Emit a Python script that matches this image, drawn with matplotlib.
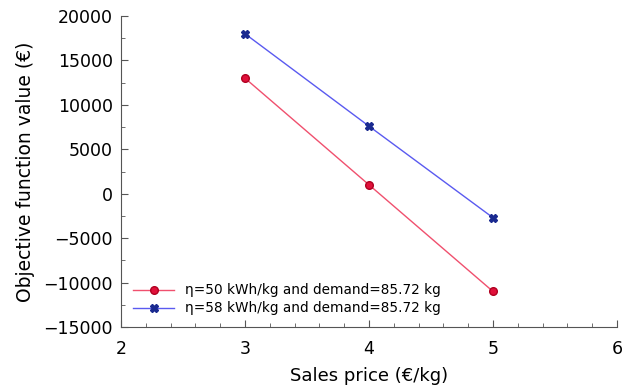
import matplotlib
matplotlib.use("Agg")
import matplotlib.pyplot as plt
from matplotlib.ticker import MultipleLocator

price = [3, 4, 5]
obj_eta50 = [13000, 1000, -11000]
obj_eta58 = [18000, 7600, -2700]
labels = ["\u03b7=50 kWh/kg and demand=85.72 kg",
          "\u03b7=58 kWh/kg and demand=85.72 kg"]

plt.rcParams['font.family'] = ['DejaVu Sans']

fig = plt.figure(figsize=(6.31, 3.9), dpi=100)
ax = fig.add_axes([121 / 631, 63 / 390, 496 / 631, 311 / 390])

ax.plot(price, obj_eta50, color='#f0506e', lw=1, marker='o', ms=5.5,
        mfc='#e0103a', mec='#b00020', label=labels[0])
ax.plot(price, obj_eta58, color='#5a5af0', lw=1, marker='X', ms=6,
        mfc='#1a2a90', mec='#1a2a90', label=labels[1])

ax.set_xlim(2, 6)
ax.set_ylim(-15000, 20000)
ax.xaxis.set_major_locator(MultipleLocator(1))
ax.xaxis.set_minor_locator(MultipleLocator(0.2))
ax.yaxis.set_major_locator(MultipleLocator(5000))
ax.yaxis.set_minor_locator(MultipleLocator(2500))
ax.tick_params(which='both', direction='in', labelsize=12.5, color='#555555')
ax.tick_params(which='major', length=5)
ax.tick_params(which='minor', length=3)
ax.tick_params(axis='x', pad=9)
ax.tick_params(axis='y', pad=6)
for s in ['top', 'right']:
    ax.spines[s].set_visible(False)
for s in ['left', 'bottom']:
    ax.spines[s].set_color('#555555')

ax.set_xlabel("Sales price (\u20ac/kg)", fontsize=13, labelpad=7)
ax.set_ylabel("Objective function value (\u20ac)", fontsize=13.5, labelpad=6)

ax.legend(loc='lower left', frameon=False, fontsize=9.8, handlelength=3,
          bbox_to_anchor=(0.0, -0.002), labelspacing=0.3)

fig.savefig("out.png", dpi=100)
